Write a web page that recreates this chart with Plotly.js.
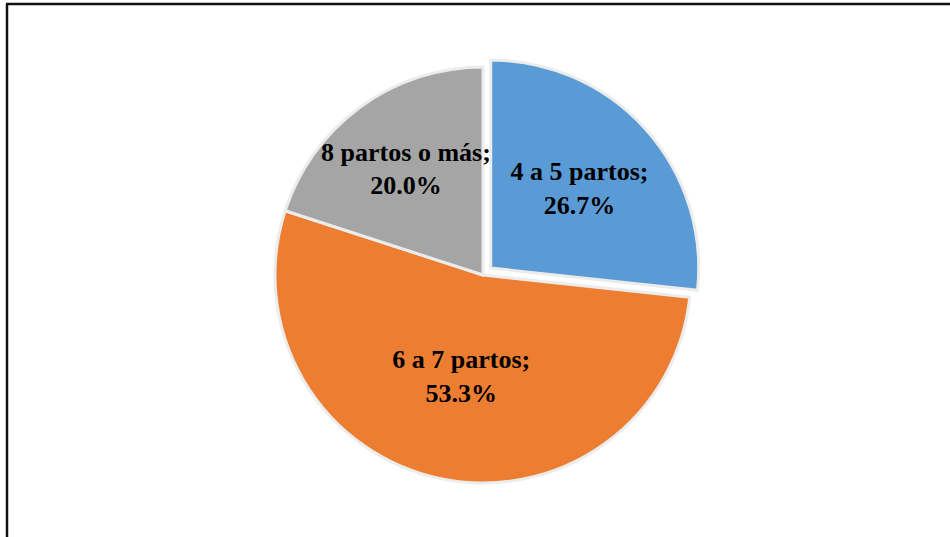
<!DOCTYPE html>
<html>
<head>
<meta charset="utf-8">
<script src="https://cdn.plot.ly/plotly-3.0.1.min.js"></script>
<style>
html,body{margin:0;padding:0;background:#fff;}
#chart{width:950px;height:537px;}
</style>
</head>
<body>
<div id="chart"></div>
<script>
const categories = ["4 a 5 partos", "6 a 7 partos", "8 partos o más"];
const percentages = [26.7, 53.3, 20.0];
const sliceColors = ["#5B9BD5", "#ED7D31", "#A5A5A5"];

const trace = {
  type: "pie",
  labels: categories,
  values: percentages,
  sort: false,
  direction: "clockwise",
  rotation: 0,
  pull: [0.05, 0, 0],
  marker: {colors: sliceColors, line: {color: "#ececec", width: 3}},
  texttemplate: "%{label};<br>%{percent:.1%}",
  textposition: "inside",
  insidetextorientation: "horizontal",
  textfont: {family: "'Times New Roman', 'Liberation Serif', serif", size: 26, color: "#000", weight: "bold"},
  hoverinfo: "none",
  domain: {x: [0.2785, 0.7383], y: [0.0812, 0.8946]},
  showlegend: false
};

const layout = {
  width: 950, height: 537,
  margin: {l: 0, r: 0, t: 0, b: 0},
  paper_bgcolor: "#fff",
  showlegend: false,
  uniformtext: {minsize: 26, mode: "show"},
  shapes: [
    {type: "line", xref: "paper", yref: "paper", x0: 6/950, x1: 1, y0: 1 - 4/537, y1: 1 - 4/537, line: {color: "#111", width: 2.5}},
    {type: "line", xref: "paper", yref: "paper", x0: 7/950, x1: 7/950, y0: 0, y1: 1 - 4/537, line: {color: "#111", width: 2.5}}
  ]
};

Plotly.newPlot("chart", [trace], layout, {displayModeBar: false, staticPlot: true});
</script>
</body>
</html>
